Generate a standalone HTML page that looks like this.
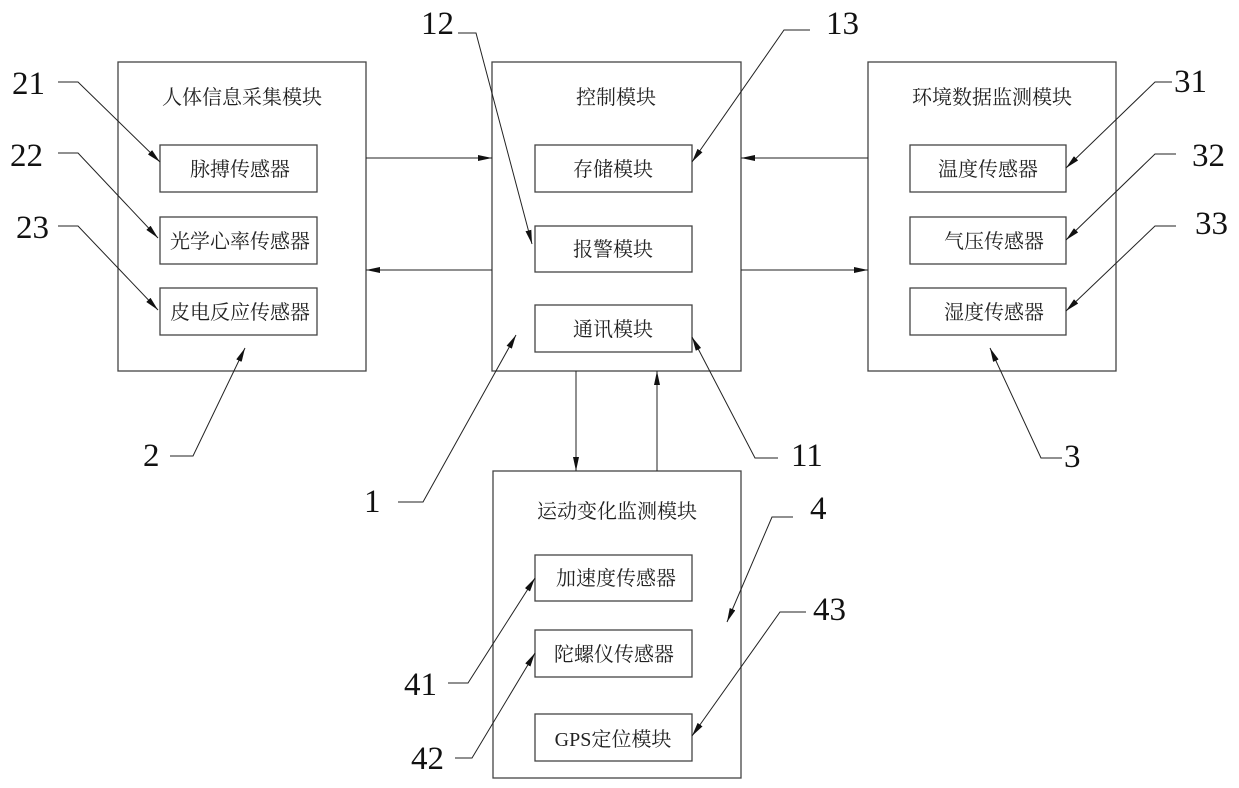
<!DOCTYPE html>
<html><head><meta charset="utf-8"><style>
body{margin:0;background:#fff}
svg{display:block}
.b{fill:none;stroke:#444;stroke-width:1.3}
.l{stroke:#222;stroke-width:1;fill:none}
.c{font-family:"Liberation Serif","Noto Serif CJK SC",serif;font-size:20px;fill:#222;text-anchor:middle}
.n{font-family:"Liberation Serif",serif;font-size:33px;fill:#111}
</style></head><body>
<svg width="1239" height="788" viewBox="0 0 1239 788">
<defs><marker id="a" viewBox="0 0 14 6" refX="14" refY="3" markerWidth="14" markerHeight="6" orient="auto" markerUnits="userSpaceOnUse"><path d="M0,0L14,3L0,6Z" fill="#111"/></marker></defs>
<rect class="b" x="118" y="62" width="248" height="309"/>
<rect class="b" x="160" y="145" width="157" height="47"/>
<rect class="b" x="160" y="217" width="157" height="47"/>
<rect class="b" x="160" y="288" width="157" height="47"/>
<rect class="b" x="492" y="62" width="249" height="309"/>
<rect class="b" x="535" y="145" width="157" height="47"/>
<rect class="b" x="535" y="226" width="157" height="46"/>
<rect class="b" x="535" y="305" width="157" height="47"/>
<rect class="b" x="868" y="62" width="248" height="309"/>
<rect class="b" x="910" y="145" width="156" height="47"/>
<rect class="b" x="910" y="217" width="156" height="47"/>
<rect class="b" x="910" y="288" width="156" height="47"/>
<rect class="b" x="493" y="471" width="248" height="307"/>
<rect class="b" x="535" y="555" width="157" height="46"/>
<rect class="b" x="535" y="630" width="157" height="47"/>
<rect class="b" x="535" y="714" width="157" height="47"/>
<g class="c">
<text x="242" y="104">人体信息采集模块</text>
<text x="240" y="176">脉搏传感器</text>
<text x="240" y="248">光学心率传感器</text>
<text x="240" y="319">皮电反应传感器</text>
<text x="616" y="104">控制模块</text>
<text x="613" y="176">存储模块</text>
<text x="613" y="256">报警模块</text>
<text x="613" y="336">通讯模块</text>
<text x="992" y="104">环境数据监测模块</text>
<text x="988" y="176">温度传感器</text>
<text x="994" y="248">气压传感器</text>
<text x="994" y="319">湿度传感器</text>
<text x="617" y="518">运动变化监测模块</text>
<text x="616" y="585">加速度传感器</text>
<text x="614" y="661">陀螺仪传感器</text>
<text x="613" y="746">GPS定位模块</text>
</g>
<g class="l">
<line x1="366" y1="158" x2="492" y2="158" marker-end="url(#a)"/>
<line x1="492" y1="270" x2="366" y2="270" marker-end="url(#a)"/>
<line x1="868" y1="158" x2="741" y2="158" marker-end="url(#a)"/>
<line x1="741" y1="270" x2="868" y2="270" marker-end="url(#a)"/>
<line x1="576" y1="371" x2="576" y2="471" marker-end="url(#a)"/>
<line x1="657" y1="471" x2="657" y2="371" marker-end="url(#a)"/>
<polyline points="58,82 78,82 160,162" marker-end="url(#a)"/>
<polyline points="58,153 78,153 158,238" marker-end="url(#a)"/>
<polyline points="58,226 78,226 158,310" marker-end="url(#a)"/>
<polyline points="170,456 193,456 245,348" marker-end="url(#a)"/>
<polyline points="398,502 423,502 516,335" marker-end="url(#a)"/>
<polyline points="458,33 476,33 532,244" marker-end="url(#a)"/>
<polyline points="810,30 784,30 692,162" marker-end="url(#a)"/>
<polyline points="778,458 755,458 692,337" marker-end="url(#a)"/>
<polyline points="1172,82 1155,82 1066,168" marker-end="url(#a)"/>
<polyline points="1176,154 1155,154 1066,240" marker-end="url(#a)"/>
<polyline points="1176,226 1155,226 1066,311" marker-end="url(#a)"/>
<polyline points="1062,458 1041,458 990,348" marker-end="url(#a)"/>
<polyline points="793,517 772,517 727,622" marker-end="url(#a)"/>
<polyline points="806,612 780,612 692,736" marker-end="url(#a)"/>
<polyline points="448,683 468,683 535,578" marker-end="url(#a)"/>
<polyline points="455,758 472,758 535,653" marker-end="url(#a)"/>
</g>
<g class="n">
<text x="12" y="94">21</text>
<text x="10" y="166">22</text>
<text x="16" y="238">23</text>
<text x="143" y="466">2</text>
<text x="364" y="512">1</text>
<text x="421" y="34">12</text>
<text x="826" y="34">13</text>
<text x="791" y="466">11</text>
<text x="1174" y="92">31</text>
<text x="1192" y="166">32</text>
<text x="1195" y="234">33</text>
<text x="1064" y="467">3</text>
<text x="810" y="519">4</text>
<text x="813" y="620">43</text>
<text x="404" y="695">41</text>
<text x="411" y="769">42</text>
</g>
</svg>
</body></html>
